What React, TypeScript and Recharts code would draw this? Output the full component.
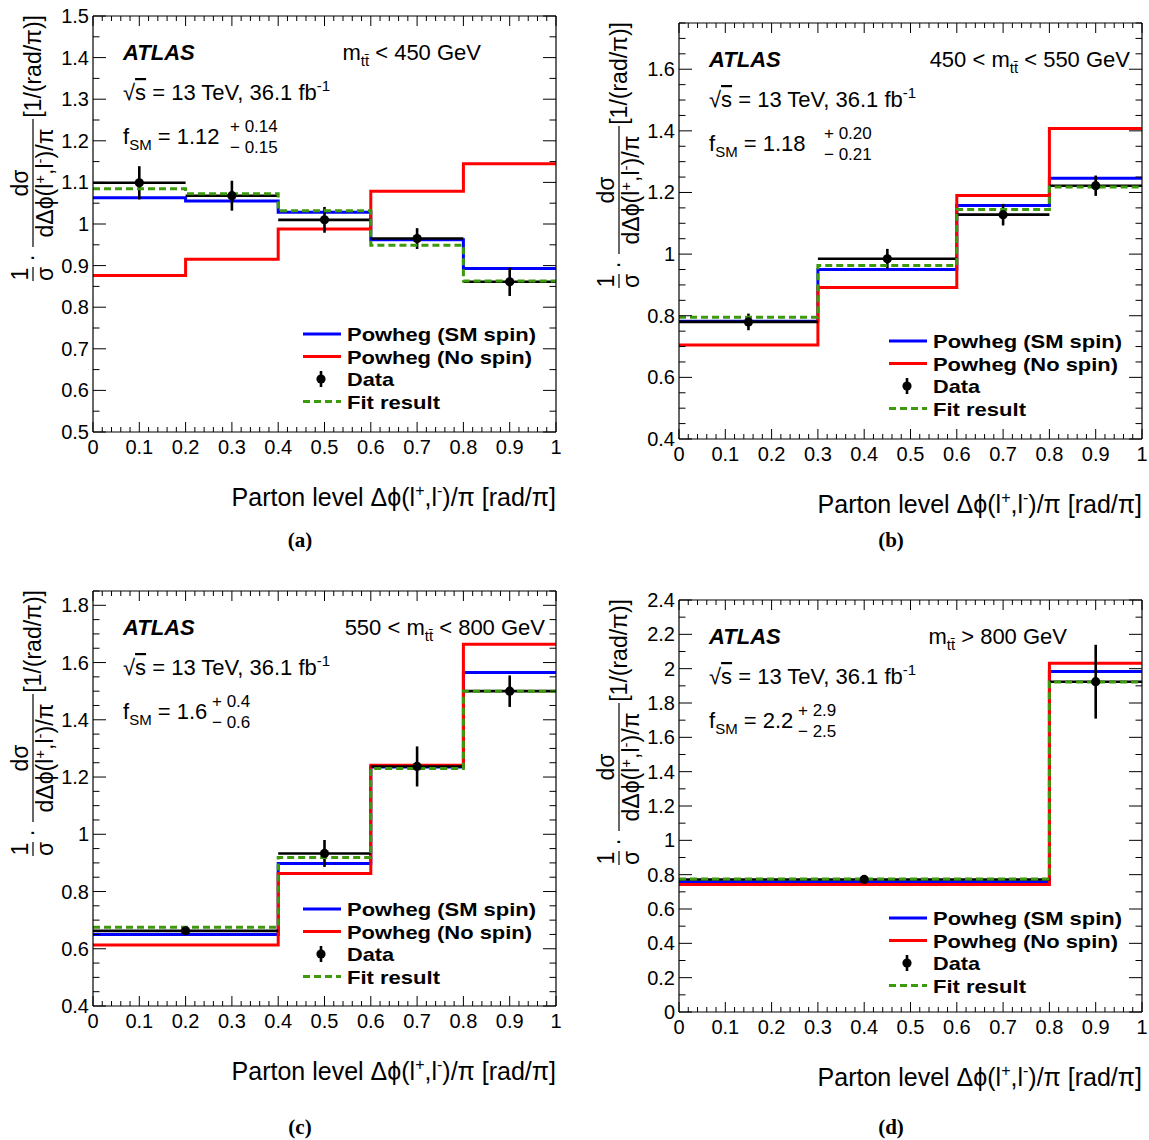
import React from 'react'
import { ComposedChart, Line, Scatter, ErrorBar, XAxis, YAxis } from 'recharts'

const FONT = "'Liberation Sans', Arial, Helvetica, sans-serif"

// x tick labels shared by all panels
const xLabels = [0, 0.1, 0.2, 0.3, 0.4, 0.5, 0.6, 0.7, 0.8, 0.9, 1]

// (a) m_tt < 450 GeV
const edgesA = [0, 0.2, 0.4, 0.6, 0.8, 1]
const centersA = [0.1, 0.3, 0.5, 0.7, 0.9]
const smSpinA = [1.063, 1.055, 1.028, 0.962, 0.893]
const noSpinA = [0.876, 0.915, 0.988, 1.079, 1.145]
const fitA = [1.085, 1.073, 1.032, 0.949, 0.863]
const dataA = [1.099, 1.068, 1.01, 0.965, 0.861]
const errA = [0.04, 0.036, 0.031, 0.025, 0.034]
const yLabelsA = [0.5, 0.6, 0.7, 0.8, 0.9, 1, 1.1, 1.2, 1.3, 1.4, 1.5]

// (b) 450 < m_tt < 550 GeV
const edgesB = [0, 0.3, 0.6, 0.8, 1]
const centersB = [0.15, 0.45, 0.7, 0.9]
const smSpinB = [0.782, 0.95, 1.158, 1.246]
const noSpinB = [0.705, 0.892, 1.19, 1.408]
const fitB = [0.795, 0.963, 1.145, 1.218]
const dataB = [0.78, 0.985, 1.128, 1.222]
const errB = [0.027, 0.032, 0.035, 0.033]
const yLabelsB = [0.4, 0.6, 0.8, 1, 1.2, 1.4, 1.6]

// (c) 550 < m_tt < 800 GeV
const edgesC = [0, 0.4, 0.6, 0.8, 1]
const centersC = [0.2, 0.5, 0.7, 0.9]
const smSpinC = [0.65, 0.898, 1.235, 1.565]
const noSpinC = [0.6135, 0.863, 1.241, 1.664]
const fitC = [0.675, 0.919, 1.23, 1.5]
const dataC = [0.6625, 0.933, 1.237, 1.5]
const errC = [0.012, 0.047, 0.07, 0.055]
const yLabelsC = [0.4, 0.6, 0.8, 1, 1.2, 1.4, 1.6, 1.8]

// (d) m_tt > 800 GeV
const edgesD = [0, 0.8, 1]
const centersD = [0.4, 0.9]
const smSpinD = [0.758, 1.984]
const noSpinD = [0.742, 2.031]
const fitD = [0.775, 1.922]
const dataD = [0.772, 1.924]
const errD = [0.012, 0.215]
const yLabelsD = [0, 0.2, 0.4, 0.6, 0.8, 1, 1.2, 1.4, 1.6, 1.8, 2, 2.2, 2.4]

const legendRows = ['Powheg (SM spin)', 'Powheg (No spin)', 'Data', 'Fit result']
const legendWidths = [189, 185, 47, 93]

const steps = (edges: number[], vals: number[]) =>
  edges.map((x, i) => ({ x, y: vals[Math.min(i, vals.length - 1)] }))

const points = (edges: number[], centers: number[], vals: number[], errs: number[]) =>
  centers.map((x, i) => ({ x, y: vals[i], ex: (edges[i + 1] - edges[i]) / 2, ey: errs[i] }))

const grid = (lo: number, hi: number, step: number) => {
  const out: number[] = []
  const n = Math.round((hi - lo) / step)
  for (let i = 0; i <= n; i++) out.push(Math.round((lo + i * step) * 1000) / 1000)
  return out
}

const has = (arr: number[], v: number) => arr.some(a => Math.abs(a - v) < 1e-6)
const fmt = (v: number) => String(Number(v.toFixed(2)))

const panels = [
  {
    id: 'a', left: 93, right: 556, top: 16, bottom: 432, yMin: 0.5, yMax: 1.5, yLabels: yLabelsA, yMinor: 0.05,
    edges: edgesA, centers: centersA, sm: smSpinA, ns: noSpinA, fit: fitA, data: dataA, err: errA,
    massPre: '', massPost: ' < 450 GeV', massX: 481, fsm: '1.12', up: '+ 0.14', dn: '\u2212 0.15', fsmOff: 137,
    label: '(a)', labelX: 300, labelY: 540,
  },
  {
    id: 'b', left: 679, right: 1142, top: 23, bottom: 439, yMin: 0.4, yMax: 1.75, yLabels: yLabelsB, yMinor: 0.05,
    edges: edgesB, centers: centersB, sm: smSpinB, ns: noSpinB, fit: fitB, data: dataB, err: errB,
    massPre: '450 < ', massPost: ' < 550 GeV', massX: 1130, fsm: '1.18', up: '+ 0.20', dn: '\u2212 0.21', fsmOff: 145,
    label: '(b)', labelX: 891, labelY: 540,
  },
  {
    id: 'c', left: 93, right: 556, top: 591, bottom: 1006, yMin: 0.4, yMax: 1.85, yLabels: yLabelsC, yMinor: 0.05,
    edges: edgesC, centers: centersC, sm: smSpinC, ns: noSpinC, fit: fitC, data: dataC, err: errC,
    massPre: '550 < ', massPost: ' < 800 GeV', massX: 545, fsm: '1.6', up: '+ 0.4', dn: '\u2212 0.6', fsmOff: 119,
    label: '(c)', labelX: 300, labelY: 1127,
  },
  {
    id: 'd', left: 679, right: 1142, top: 600, bottom: 1012, yMin: 0, yMax: 2.4, yLabels: yLabelsD, yMinor: 0.1,
    edges: edgesD, centers: centersD, sm: smSpinD, ns: noSpinD, fit: fitD, data: dataD, err: errD,
    massPre: '', massPost: ' > 800 GeV', massX: 1067, fsm: '2.2', up: '+ 2.9', dn: '\u2212 2.5', fsmOff: 119,
    label: '(d)', labelX: 891, labelY: 1127,
  },
]

const xTicks = grid(0, 1, 0.02)
const X_MAJ = 10, X_MIN = 5, Y_MAJ = 13, Y_MIN = 6.5

function Panel({ p }: { p: (typeof panels)[number] }) {
  const W = p.right - p.left
  const H = p.bottom - p.top
  const padL = 93, padT = 10, padR = 14, padB = 40
  const yTicks = grid(p.yMin, p.yMax, p.yMinor)

  const bottomTick = (t: any) => {
    const v = t.payload.value
    const maj = has(xLabels, v)
    return (
      <g>
        <line x1={t.x} x2={t.x} y1={t.y} y2={t.y - (maj ? X_MAJ : X_MIN)} stroke="#000" strokeWidth={1} />
        {maj && (
          <text x={t.x} y={t.y + 22} textAnchor="middle" fontSize={20} fontFamily={FONT} fill="#000">{fmt(v)}</text>
        )}
      </g>
    )
  }
  const topTick = (t: any) => {
    const maj = has(xLabels, t.payload.value)
    return <line x1={t.x} x2={t.x} y1={t.y} y2={t.y + (maj ? X_MAJ : X_MIN)} stroke="#000" strokeWidth={1} />
  }
  const leftTick = (t: any) => {
    const v = t.payload.value
    const maj = has(p.yLabels, v)
    return (
      <g>
        <line x1={t.x} x2={t.x + (maj ? Y_MAJ : Y_MIN)} y1={t.y} y2={t.y} stroke="#000" strokeWidth={1} />
        {maj && (
          <text x={t.x - 4} y={t.y + 7} textAnchor="end" fontSize={20} fontFamily={FONT} fill="#000">{fmt(v)}</text>
        )}
      </g>
    )
  }
  const rightTick = (t: any) => {
    const maj = has(p.yLabels, t.payload.value)
    return <line x1={t.x} x2={t.x - (maj ? Y_MAJ : Y_MIN)} y1={t.y} y2={t.y} stroke="#000" strokeWidth={1} />
  }

  const axisCommon = { tickLine: false, tickSize: 0, tickMargin: 0, interval: 0 as const, allowDataOverflow: true, axisLine: { stroke: '#000', strokeWidth: 1.2 } }
  const frameData = steps(p.edges, p.sm)

  return (
    <div style={{ position: 'absolute', left: p.left - padL, top: p.top - padT }}>
      <ComposedChart width={W + padL + 1 + padR} height={H + padT + padB} margin={{ top: padT - 1, right: padR, left: 0, bottom: 0 }}>
        <XAxis xAxisId="b" type="number" dataKey="x" domain={[0, 1]} ticks={xTicks} tick={bottomTick} height={padB} {...axisCommon} />
        <XAxis xAxisId="t" orientation="top" type="number" dataKey="x" domain={[0, 1]} ticks={xTicks} tick={topTick} height={1} {...axisCommon} />
        <YAxis yAxisId="l" type="number" dataKey="y" domain={[p.yMin, p.yMax]} ticks={yTicks} tick={leftTick} width={padL} {...axisCommon} />
        <YAxis yAxisId="r" orientation="right" type="number" dataKey="y" domain={[p.yMin, p.yMax]} ticks={yTicks} tick={rightTick} width={1} {...axisCommon} />

        {/* invisible series so the top/right frame axes get drawn */}
        <Line xAxisId="t" yAxisId="r" data={frameData} dataKey="y" stroke="none" strokeOpacity={0} dot={false} activeDot={false} isAnimationActive={false} legendType="none" />

        <Line xAxisId="b" yAxisId="l" data={steps(p.edges, p.sm)} dataKey="y" type="stepAfter" stroke="#0000ff" strokeWidth={3} dot={false} activeDot={false} isAnimationActive={false} />
        <Line xAxisId="b" yAxisId="l" data={steps(p.edges, p.ns)} dataKey="y" type="stepAfter" stroke="#ff0000" strokeWidth={3} dot={false} activeDot={false} isAnimationActive={false} />
        <Scatter
          xAxisId="b" yAxisId="l" data={points(p.edges, p.centers, p.data, p.err)} dataKey="y" fill="#000" isAnimationActive={false}
          shape={(s: any) => <circle cx={s.cx} cy={s.cy} r={4.6} fill="#000" />}
        >
          <ErrorBar dataKey="ex" direction="x" width={0} stroke="#000" strokeWidth={2.6} />
          <ErrorBar dataKey="ey" direction="y" width={0} stroke="#000" strokeWidth={2.6} />
        </Scatter>
        <Line xAxisId="b" yAxisId="l" data={steps(p.edges, p.fit)} dataKey="y" type="stepAfter" stroke="#3c9a0c" strokeWidth={3} strokeDasharray="7 4" dot={false} activeDot={false} isAnimationActive={false} />
      </ComposedChart>
    </div>
  )
}

function Annotations({ p }: { p: (typeof panels)[number] }) {
  const L = p.left, T = p.top
  const lx = L + 210
  const ly = T + 318
  return (
    <g fontFamily={FONT} fill="#000">
      {/* y axis title, rotated, top end at frame top */}
      <g transform={`translate(${L - 60},${T - 1}) rotate(-90)`} fontSize={23}>
        <text x={0} y={8} textAnchor="end">[1/(rad/π)]</text>
        <line x1={-104} x2={-232} y1={0} y2={0} stroke="#000" strokeWidth={1.2} />
        <text x={-168} y={-5} textAnchor="middle">dσ</text>
        <text x={-168} y={20} textAnchor="middle">
          dΔϕ(l<tspan dy={-8} fontSize={15}>+</tspan>
          <tspan dy={8}>,l</tspan>
          <tspan dy={-8} fontSize={15}>-</tspan>
          <tspan dy={8}>)/π</tspan>
        </text>
        <text x={-243} y={6} textAnchor="middle">·</text>
        <text x={-259} y={-5} textAnchor="middle">1</text>
        <line x1={-252} x2={-266} y1={0} y2={0} stroke="#000" strokeWidth={1.2} />
        <text x={-259} y={20} textAnchor="middle">σ</text>
      </g>

      <text x={L + 30} y={T + 44} fontSize={22} fontWeight="bold" fontStyle="italic">ATLAS</text>
      <text x={p.massX} y={T + 44} fontSize={22} textAnchor="end">
        {p.massPre}m<tspan dy={6} fontSize={15}>t{'t\u0304'}</tspan>
        <tspan dy={-6}>{p.massPost}</tspan>
      </text>
      <text x={L + 30} y={T + 84} fontSize={22}>
        √<tspan textDecoration="overline">s</tspan> = 13 TeV, 36.1 fb<tspan dy={-9} fontSize={15}>-1</tspan>
      </text>
      <text x={L + 30} y={T + 128} fontSize={22}>
        f<tspan dy={6} fontSize={15}>SM</tspan>
        <tspan dy={-6}> = {p.fsm}</tspan>
      </text>
      <text x={L + p.fsmOff} y={T + 116} fontSize={17}>{p.up}</text>
      <text x={L + p.fsmOff} y={T + 137} fontSize={17}>{p.dn}</text>

      {/* legend */}
      <g fontSize={19} fontWeight="bold">
        <line x1={lx} x2={lx + 38} y1={ly} y2={ly} stroke="#0000ff" strokeWidth={3} />
        <line x1={lx} x2={lx + 38} y1={ly + 22.5} y2={ly + 22.5} stroke="#ff0000" strokeWidth={3} />
        <line x1={lx + 18} x2={lx + 18} y1={ly + 45 - 8} y2={ly + 45 + 8} stroke="#000" strokeWidth={2.6} />
        <circle cx={lx + 18} cy={ly + 45} r={4.6} fill="#000" />
        <line x1={lx} x2={lx + 38} y1={ly + 67.5} y2={ly + 67.5} stroke="#3c9a0c" strokeWidth={3} strokeDasharray="7 4" />
        {legendRows.map((r, i) => (
          <text key={r} x={lx + 44} y={ly + i * 22.5 + 7} textLength={legendWidths[i]} lengthAdjust="spacingAndGlyphs">{r}</text>
        ))}
      </g>

      <text x={p.right} y={p.bottom + 74} fontSize={25} textAnchor="end">
        Parton level Δϕ(l<tspan dy={-10} fontSize={16}>+</tspan>
        <tspan dy={10}>,l</tspan>
        <tspan dy={-10} fontSize={16}>-</tspan>
        <tspan dy={10}>)/π [rad/π]</tspan>
      </text>
      <text x={p.labelX} y={p.labelY + 7} fontSize={21} fontWeight="bold" textAnchor="middle" fontFamily="'Liberation Serif', 'Times New Roman', serif">
        {p.label}
      </text>
    </g>
  )
}

export default function App() {
  return (
    <div style={{ position: 'absolute', left: 0, top: 0, width: 1149, height: 1140, overflow: 'hidden', background: '#fff' }}>
      {panels.map(p => <Panel key={p.id} p={p} />)}
      <svg width={1149} height={1140} style={{ position: 'absolute', left: 0, top: 0, pointerEvents: 'none' }}>
        {panels.map(p => <Annotations key={p.id} p={p} />)}
      </svg>
    </div>
  )
}
